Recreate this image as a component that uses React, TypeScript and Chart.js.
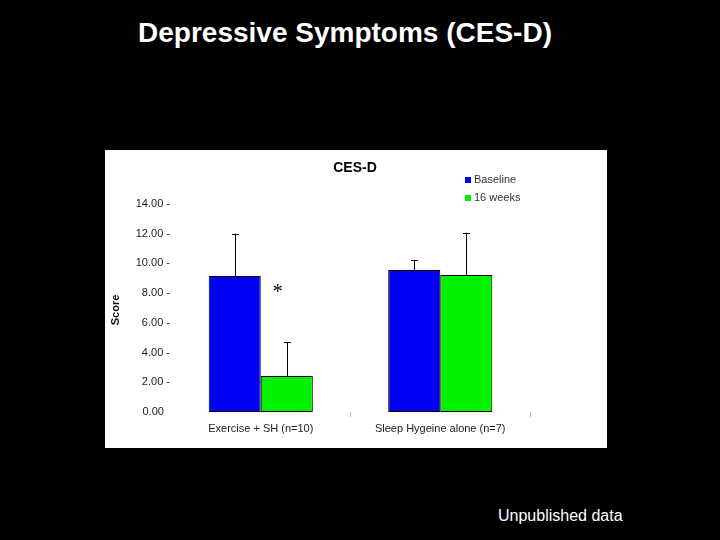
import React, { useEffect, useRef } from "react";
import { Chart, registerables } from "chart.js";

Chart.register(...registerables);

const pageTitle = "Depressive Symptoms (CES-D)";
const footnote = "Unpublished data";
const chartTitle = "CES-D";
const yAxisTitle = "Score";
const categories = ["Exercise + SH (n=10)", "Sleep Hygeine alone (n=7)"];
const seriesNames = ["Baseline", "16 weeks"];
const seriesColors = ["#0000f2", "#00f200"];
const baselineMeans = [9.15, 9.55];
const baselineSD = [2.85, 0.65];
const weekMeans = [2.42, 9.22];
const weekSD = [2.3, 2.85];
const yMin = 0;
const yMax = 14;
const yStep = 2;
const significance = { datasetIndex: 1, index: 0, value: 8.25, mark: "*" };

const SANS = "'Liberation Sans', Arial, sans-serif";

const errorBarPlugin = {
  id: "errorBars",
  afterDatasetsDraw(chart: any) {
    const ctx = chart.ctx;
    const yScale = chart.scales.y;
    const sds = [baselineSD, weekSD];
    chart.data.datasets.forEach((ds: any, i: number) => {
      const meta = chart.getDatasetMeta(i);
      meta.data.forEach((el: any, j: number) => {
        const top = yScale.getPixelForValue(ds.data[j] + sds[i][j]);
        const x = Math.round(el.x) + 0.5;
        ctx.save();
        ctx.strokeStyle = "#000";
        ctx.lineWidth = 1;
        ctx.beginPath();
        ctx.moveTo(x, el.y);
        ctx.lineTo(x, top);
        ctx.moveTo(x - 3.5, Math.round(top) + 0.5);
        ctx.lineTo(x + 3.5, Math.round(top) + 0.5);
        ctx.stroke();
        ctx.restore();
      });
    });
  },
  afterDraw(chart: any) {
    const ctx = chart.ctx;
    const area = chart.chartArea;
    const yScale = chart.scales.y;
    ctx.save();
    // chart title
    ctx.fillStyle = "#000";
    ctx.font = `bold 14px ${SANS}`;
    ctx.textAlign = "center";
    ctx.textBaseline = "middle";
    ctx.fillText(chartTitle, 250, 18);
    // legend
    ctx.font = `11px ${SANS}`;
    ctx.textAlign = "left";
    seriesNames.forEach((name, i) => {
      const cy = 30 + i * 18;
      ctx.fillStyle = seriesColors[i];
      ctx.fillRect(360, cy - 3, 6, 6);
      ctx.fillStyle = "#333";
      ctx.fillText(name, 369, cy);
    });
    // y axis title
    ctx.save();
    ctx.translate(11, (area.top + area.bottom) / 2 + 2);
    ctx.rotate(-Math.PI / 2);
    ctx.font = `bold 11px ${SANS}`;
    ctx.fillStyle = "#111";
    ctx.textAlign = "center";
    ctx.textBaseline = "middle";
    ctx.fillText(yAxisTitle, 0, 0);
    ctx.restore();
    // significance mark
    const el = chart.getDatasetMeta(significance.datasetIndex).data[significance.index];
    if (el) {
      ctx.font = `20px 'Liberation Serif', 'Times New Roman', serif`;
      ctx.fillStyle = "#000";
      ctx.textAlign = "center";
      ctx.textBaseline = "alphabetic";
      ctx.fillText(significance.mark, el.x - 9, yScale.getPixelForValue(significance.value) + 9);
    }
    ctx.restore();
  },
};

function App() {
  const canvasRef = useRef<HTMLCanvasElement | null>(null);

  useEffect(() => {
    const canvas = canvasRef.current;
    if (!canvas) return;
    const chart = new Chart(canvas, {
      type: "bar",
      data: {
        labels: categories,
        datasets: [
          {
            label: seriesNames[0],
            data: baselineMeans,
            backgroundColor: seriesColors[0],
            borderColor: "#000",
            borderWidth: 1,
            borderSkipped: false,
          },
          {
            label: seriesNames[1],
            data: weekMeans,
            backgroundColor: seriesColors[1],
            borderColor: "#000",
            borderWidth: 1,
            borderSkipped: false,
          },
        ],
      },
      options: {
        responsive: false,
        animation: false,
        devicePixelRatio: 1,
        layout: { padding: { top: 54, right: 77, left: 0, bottom: 0 } },
        datasets: { bar: { categoryPercentage: 0.58, barPercentage: 1.0 } },
        plugins: {
          legend: { display: false },
          title: { display: false },
          tooltip: { enabled: false },
        },
        scales: {
          x: {
            offset: true,
            grid: {
              display: true,
              offset: true,
              drawOnChartArea: false,
              drawTicks: true,
              tickLength: 5,
              color: (c: any) => (c.index === 0 ? "rgba(0,0,0,0)" : "#bbbbbb"),
            },
            border: { display: false },
            ticks: {
              color: "#222",
              font: { family: SANS, size: 11 },
              padding: 5,
              maxRotation: 0,
            },
            afterFit: (scale: any) => {
              scale.height = 36;
            },
          },
          y: {
            min: yMin,
            max: yMax,
            grid: { display: false, drawTicks: false, tickLength: 0 },
            border: { display: false },
            ticks: {
              stepSize: yStep,
              color: "#222",
              font: { family: SANS, size: 11 },
              padding: 1,
              callback: (v: any) => (Number(v) === 0 ? "0.00  " : Number(v).toFixed(2) + " -"),
            },
            afterFit: (scale: any) => {
              scale.width = 66;
            },
          },
        },
      },
      plugins: [errorBarPlugin],
    });
    return () => chart.destroy();
  }, []);

  return (
    <div
      style={{
        position: "absolute",
        left: 0,
        top: 0,
        width: 720,
        height: 540,
        background: "#000",
        overflow: "hidden",
        fontFamily: SANS,
      }}
    >
      <div
        style={{
          position: "absolute",
          left: 0,
          top: 17,
          width: 690,
          textAlign: "center",
          color: "#fff",
          fontWeight: "bold",
          fontSize: 28,
          lineHeight: "32px",
          whiteSpace: "nowrap",
        }}
      >
        {pageTitle}
      </div>
      <div
        style={{
          position: "absolute",
          left: 105,
          top: 150,
          width: 502,
          height: 298,
          background: "#fff",
        }}
      >
        <canvas ref={canvasRef} width={502} height={298} style={{ width: 502, height: 298, display: "block" }} />
      </div>
      <div
        style={{
          position: "absolute",
          left: 498,
          top: 507,
          color: "#fff",
          fontSize: 16,
          lineHeight: "18px",
          whiteSpace: "nowrap",
        }}
      >
        {footnote}
      </div>
    </div>
  );
}

export default App;
